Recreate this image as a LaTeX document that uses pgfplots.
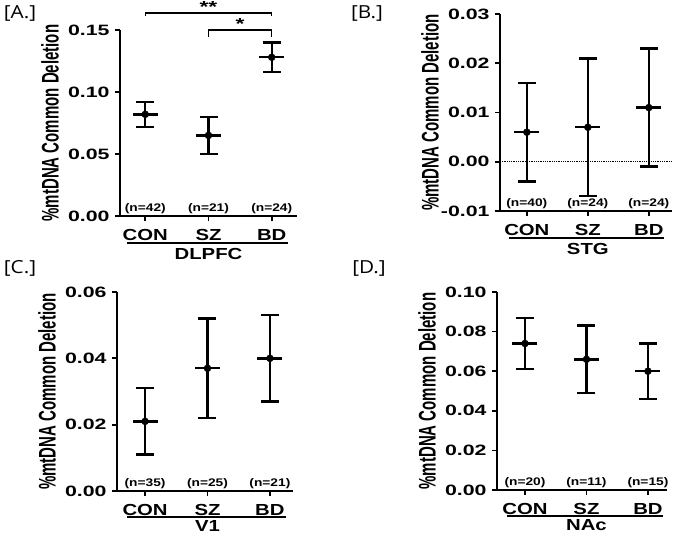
\documentclass[border=0pt]{standalone}
\usepackage{fontspec}
\setmainfont{Liberation Sans}
\newfontfamily\labfont{Open Sans}
\usepackage{graphicx}
\usepackage{pgfplots}
\usepackage{pgfplotstable}
\pgfplotsset{compat=1.18}

\newcommand{\W}[2][1.42]{\scalebox{#1}[1]{#2}}

% mean, symmetric error
\pgfplotstableread{
x y e
0 0.082 0.010
1 0.065 0.015
2 0.128 0.012
}\datA
\pgfplotstableread{
x y e
0 0.006 0.010
1 0.007 0.014
2 0.011 0.012
}\datB
\pgfplotstableread{
x y e
0 0.021 0.010
1 0.037 0.015
2 0.040 0.013
}\datC
\pgfplotstableread{
x y e
0 0.074 0.013
1 0.066 0.017
2 0.060 0.014
}\datD

\pgfplotsset{panel/.style={
  scale only axis, anchor=south west, clip=false,
  axis x line*=bottom, axis y line*=left,
  xtick={0,1,2}, xticklabels={\W[1.27]{CON},\W[1.27]{SZ},\W[1.27]{BD}},
  tick align=outside, major tick length=5pt,
  axis line style={line width=1.7pt},
  every tick/.style={black, line width=1.7pt},
  scaled y ticks=false,
  xticklabel style={font=\bfseries\fontsize{16}{16}\selectfont, yshift=-5pt},
  yticklabel style={font=\bfseries\fontsize{15}{15}\selectfont, xshift=-2pt},
  yticklabel={\W{\pgfmathprintnumber[fixed,fixed zerofill,precision=2,assume math mode=true]{\tick}}},
  ylabel={\scalebox{1}[1.6]{\%mtDNA Common Deletion}},
  every axis y label/.style={at={(axis description cs:0,0.5)}, xshift=-70pt,
    rotate=90, anchor=center, font=\bfseries\fontsize{15}{15}\selectfont},
}}
\tikzset{
  nlab/.style={font=\bfseries\fontsize{11}{11}\selectfont},
  reg/.style={font=\bfseries\fontsize{16}{16}\selectfont},
  plab/.style={font=\labfont\fontsize{18}{18}\selectfont},
}
\newcommand{\points}[1]{%
  \addplot[black, only marks, mark=*, mark size=3.5pt,
    error bars/.cd, y dir=both, y explicit,
    error bar style={line width=2.4pt},
    error mark options={rotate=90, line width=2.4pt, mark size=9pt}]
    table[x=x,y=y,y error=e]{#1};
  \addplot[black, only marks, mark=-, mark size=12.5pt,
    mark options={line width=2.4pt}] table[x=x,y=y]{#1};
}

\begin{document}
\begin{tikzpicture}
\useasboundingbox (0pt,-536pt) rectangle (674pt,0pt);

% [A.] DLPFC
\begin{axis}[panel, at={(120pt,-216pt)}, width=177pt, height=186pt,
  xmin=-0.4, xmax=2.4, ymin=0, ymax=0.15, ytick={0,0.05,0.10,0.15}]
  \points{\datA}
  \addplot[black, line width=1.1pt] coordinates {(0,0.1613) (0,0.1637) (2,0.1637) (2,0.1613)};
  \addplot[black, line width=1.1pt] coordinates {(1,0.1444) (1,0.150) (2,0.150) (2,0.1444)};
  \node[reg] at (axis cs:1,0.1685) {\W{**}};
  \node[reg] at (axis cs:1.5,0.1545) {\W{*}};
  \node[nlab] at ([yshift=7pt]axis cs:0,0) {\W[1.25]{(n=42)}};
  \node[nlab] at ([yshift=7pt]axis cs:1,0) {\W[1.25]{(n=21)}};
  \node[nlab] at ([yshift=7pt]axis cs:2,0) {\W[1.25]{(n=24)}};
  \draw[line width=1.7pt] ([yshift=-27pt]axis cs:-0.29,0) -- ([yshift=-27pt]axis cs:2.25,0);
  \node[reg] at ([yshift=-38pt]axis cs:1,0) {\W[1.27]{DLPFC}};
\end{axis}

% [B.] STG
\begin{axis}[panel, at={(500pt,-211pt)}, width=172pt, height=197pt,
  xmin=-0.44, xmax=2.38, ymin=-0.01, ymax=0.03, ytick={-0.01,0,0.01,0.02,0.03}]
  \addplot[black, densely dotted, line width=0.8pt] coordinates {(-0.44,0) (2.38,0)};
  \points{\datB}
  \node[nlab] at ([yshift=7pt]axis cs:0,-0.01) {\W[1.25]{(n=40)}};
  \node[nlab] at ([yshift=7pt]axis cs:1,-0.01) {\W[1.25]{(n=24)}};
  \node[nlab] at ([yshift=7pt]axis cs:2,-0.01) {\W[1.25]{(n=24)}};
  \draw[line width=1.7pt] ([yshift=-27pt]axis cs:-0.29,-0.01) -- ([yshift=-27pt]axis cs:2.25,-0.01);
  \node[reg] at ([yshift=-38pt]axis cs:1,-0.01) {\W[1.27]{STG}};
\end{axis}

% [C.] V1
\begin{axis}[panel, at={(117pt,-491pt)}, width=176pt, height=199pt,
  xmin=-0.45, xmax=2.37, ymin=0, ymax=0.06, ytick={0,0.02,0.04,0.06}]
  \points{\datC}
  \node[nlab] at ([yshift=7pt]axis cs:0,0) {\W[1.25]{(n=35)}};
  \node[nlab] at ([yshift=7pt]axis cs:1,0) {\W[1.25]{(n=25)}};
  \node[nlab] at ([yshift=7pt]axis cs:2,0) {\W[1.25]{(n=21)}};
  \draw[line width=1.7pt] ([yshift=-26pt]axis cs:-0.29,0) -- ([yshift=-26pt]axis cs:2.25,0);
  \node[reg] at ([yshift=-35pt]axis cs:1,0) {\W[1.27]{V1}};
\end{axis}

% [D.] NAc
\begin{axis}[panel, at={(497pt,-490pt)}, width=170pt, height=198pt,
  xmin=-0.455, xmax=2.31, ymin=0, ymax=0.10, ytick={0,0.02,0.04,0.06,0.08,0.10}]
  \points{\datD}
  \node[nlab] at ([yshift=7pt]axis cs:0,0) {\W[1.25]{(n=20)}};
  \node[nlab] at ([yshift=7pt]axis cs:1,0) {\W[1.25]{(n=11)}};
  \node[nlab] at ([yshift=7pt]axis cs:2,0) {\W[1.25]{(n=15)}};
  \draw[line width=1.7pt] ([yshift=-26pt]axis cs:-0.29,0) -- ([yshift=-26pt]axis cs:2.25,0);
  \node[reg] at ([yshift=-35pt]axis cs:1,0) {\W[1.27]{NAc}};
\end{axis}

\node[plab] at (20pt,-13pt) {\W[1.15]{[A.]}};
\node[plab] at (367pt,-13pt) {\W[1.15]{[B.]}};
\node[plab] at (20pt,-268pt) {\W[1.15]{[C.]}};
\node[plab] at (369pt,-268pt) {\W[1.15]{[D.]}};
\end{tikzpicture}
\end{document}
